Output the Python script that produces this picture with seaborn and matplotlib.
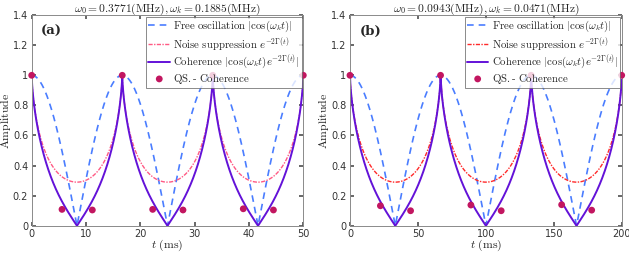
import numpy as np
import pandas as pd
import matplotlib
matplotlib.use("Agg")
import matplotlib.pyplot as plt
import seaborn as sns

# ---- data ----
omega0 = [0.3771, 0.0943]          # MHz (title values)
omegak = [0.1885, 0.0471]          # rad/ms
t_max = [50, 200]
noise_floor = [0.29, 0.29]         # minimum of e^{-2Gamma}
noise_shape = 0.7

qs_t_a = [0, 5.58, 11.16, 16.67, 22.27, 27.85, 33.33, 38.95, 44.5, 50]
qs_y_a = [1.0, 0.109, 0.105, 1.0, 0.109, 0.105, 1.0, 0.113, 0.105, 1.0]
qs_t_b = [0, 22.4, 44.6, 66.67, 89.0, 111.3, 133.33, 155.8, 177.9, 200]
qs_y_b = [1.0, 0.133, 0.100, 1.0, 0.138, 0.100, 1.0, 0.140, 0.104, 1.0]

xticks_a = [0, 10, 20, 30, 40, 50]
xticks_b = [0, 50, 100, 150, 200]
yticks = [0, 0.2, 0.4, 0.6, 0.8, 1, 1.2, 1.4]
ytick_labels = ["0", "0.2", "0.4", "0.6", "0.8", "1", "1.2", "1.4"]
panel_labels = ["(a)", "(b)"]

sns.set_theme(style="white")
plt.rcParams["font.family"] = ["DejaVu Sans"]
plt.rcParams["mathtext.fontset"] = "cm"

fig = plt.figure(figsize=(6.29, 2.56), dpi=100)
ax_a = fig.add_axes([0.0504, 0.118, 0.4318, 0.823])
ax_b = fig.add_axes([0.5564, 0.118, 0.4320, 0.823])

noise_colors = ["#ff5a84", "#ff2a2a"]
qs_sets = [(qs_t_a, qs_y_a), (qs_t_b, qs_y_b)]
xticks_all = [xticks_a, xticks_b]

for i, ax in enumerate([ax_a, ax_b]):
    t = np.linspace(0, t_max[i], 1201)
    free = np.abs(np.cos(omegak[i] * t))
    gmax = -np.log(noise_floor[i])
    noise = np.exp(-gmax * np.abs(np.sin(omegak[i] * t)) ** noise_shape)
    coh = free * noise
    df = pd.DataFrame({"t": t, "free": free, "noise": noise, "coh": coh})
    sns.lineplot(data=df, x="t", y="free", ax=ax, color="#4a7dff", lw=1.2,
                 linestyle=(0, (4, 3)),
                 label=r"$\mathrm{Free\ oscillation}\ |\cos(\omega_k t)|$")
    sns.lineplot(data=df, x="t", y="noise", ax=ax, color=noise_colors[i], lw=1.0,
                 linestyle=(0, (3, 1, 1, 1)),
                 label=r"$\mathrm{Noise\ suppression}\ e^{-2\Gamma(t)}$")
    sns.lineplot(data=df, x="t", y="coh", ax=ax, color="#6312d8", lw=1.4,
                 label=r"$\mathrm{Coherence}\ |\cos(\omega_k t)e^{-2\Gamma(t)}|$")
    qdf = pd.DataFrame({"t": qs_sets[i][0], "y": qs_sets[i][1]})
    sns.scatterplot(data=qdf, x="t", y="y", ax=ax, color="#c21660", s=24,
                    edgecolor="none", zorder=5, clip_on=False,
                    label=r"$\mathrm{QS.\text{-}\ Coherence}$")
    ax.set_xlim(0, t_max[i])
    ax.set_ylim(0, 1.4)
    ax.set_xticks(xticks_all[i])
    ax.set_yticks(yticks)
    ax.set_yticklabels(ytick_labels)
    ax.tick_params(axis="both", direction="in", length=3, labelsize=7,
                   colors="#555555", labelcolor="#333333", pad=2.5,
                   top=True, right=True, bottom=True, left=True)
    for sp in ax.spines.values():
        sp.set_color("#8a8a8a")
        sp.set_linewidth(0.7)
    ax.set_xlabel(r"$t\ \mathrm{(ms)}$", fontsize=8.5, labelpad=-1)
    ax.set_ylabel(r"$\mathrm{Amplitude}$", fontsize=8.5)
    ax.yaxis.set_label_coords(-0.07, 0.5)
    ax.set_title(r"$\omega_0 = %.4f(\mathrm{MHz}), \omega_k = %.4f(\mathrm{MHz})$"
                 % (omega0[i], omegak[i]), fontsize=8.3, pad=2)
    ax.text(0.035, 0.955, panel_labels[i], transform=ax.transAxes,
            fontsize=9.5, fontweight="bold", family="DejaVu Serif",
            va="top", ha="left")
    leg = ax.legend(loc="upper right", fontsize=7.8, frameon=True, fancybox=False,
                    borderpad=0.2, labelspacing=0.05, handlelength=2.0,
                    handletextpad=0.3, borderaxespad=0.15)
    leg.get_frame().set_edgecolor("#555555")
    leg.get_frame().set_linewidth(0.6)

fig.savefig("out.png", dpi=100)
